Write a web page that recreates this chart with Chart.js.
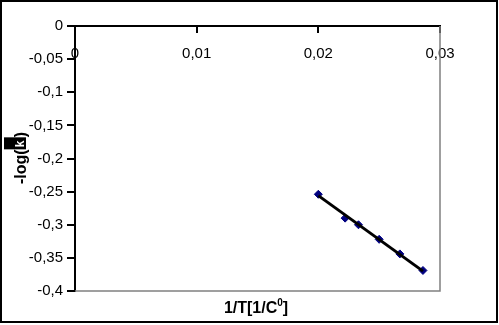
<!DOCTYPE html>
<html>
<head>
<meta charset="utf-8">
<script src="https://cdn.jsdelivr.net/npm/chart.js@4.4.1/dist/chart.umd.min.js"></script>
<style>
  html, body { margin: 0; padding: 0; background: #fff; }
  #wrap { width: 499px; height: 325px; }
</style>
</head>
<body>
<div id="wrap"><canvas id="chart" width="499" height="325"></canvas></div>
<script>
// measured points
const invT = [0.02, 0.0222, 0.0233, 0.025, 0.0267, 0.0286];
const logK = [-0.254, -0.290, -0.300, -0.322, -0.344, -0.369];
// trend line ends
const trendX = [0.02, 0.0286];
const trendY = [-0.256, -0.370];

const FONT = '"Liberation Sans", Arial, sans-serif';

const fmt = (v) => {
  const r = Math.round(v * 100) / 100;
  return r === 0 ? '0' : String(r).replace('.', ',');
};

const frame = {
  id: 'frame',
  afterDraw(chart) {
    const { ctx, chartArea: a } = chart;
    ctx.save();
    // plot area gray edges
    ctx.strokeStyle = '#808080';
    ctx.lineWidth = 1.5;
    ctx.beginPath();
    ctx.moveTo(a.right, a.top);
    ctx.lineTo(a.right, a.bottom);
    ctx.lineTo(a.left, a.bottom);
    ctx.stroke();
    // outer border
    ctx.strokeStyle = '#000';
    ctx.lineWidth = 2;
    ctx.strokeRect(1, 1, 496, 321);

    // x title
    ctx.fillStyle = '#000';
    ctx.textBaseline = 'alphabetic';
    const big = 'bold 16px ' + FONT, small = 'bold 10px ' + FONT;
    const t1 = '1/T[1/C', t2 = '0', t3 = ']';
    ctx.font = big;
    const w1 = ctx.measureText(t1).width;
    const w3 = ctx.measureText(t3).width;
    ctx.font = small;
    const w2 = ctx.measureText(t2).width;
    let x = 256 - (w1 + w2 + w3) / 2;
    const by = 313;
    ctx.font = big;
    ctx.fillText(t1, x, by);
    x += w1;
    ctx.font = small;
    ctx.fillText(t2, x, by - 7);
    x += w2;
    ctx.font = big;
    ctx.fillText(t3, x, by);

    // y title, rotated
    ctx.translate(26, 158);
    ctx.rotate(-Math.PI / 2);
    const s1 = '-log(', s3 = ')';
    const ws1 = ctx.measureText(s1).width;
    const ws3 = ctx.measureText(s3).width;
    const boxW = 12;
    let tx = -(ws1 + boxW + ws3) / 2;
    ctx.fillText(s1, tx, 0);
    tx += ws1;
    ctx.fillRect(tx, -22, boxW, 22);
    ctx.fillStyle = '#fff';
    ctx.font = 'bold 12px ' + FONT;
    ctx.fillText('k', tx + 2, -2);
    ctx.fillStyle = '#000';
    ctx.font = big;
    tx += boxW;
    ctx.fillText(s3, tx, 0);
    ctx.restore();
  }
};

new Chart(document.getElementById('chart'), {
  type: 'scatter',
  data: {
    datasets: [{
      data: invT.map((v, i) => ({ x: v, y: logK[i] })),
      pointStyle: 'rectRot',
      pointRadius: 4,
      backgroundColor: '#000080',
      borderColor: '#000080',
      order: 1
    }, {
      type: 'line',
      data: trendX.map((v, i) => ({ x: v, y: trendY[i] })),
      borderColor: '#000',
      borderWidth: 3,
      pointRadius: 0,
      order: 0
    }]
  },
  options: {
    responsive: false,
    animation: false,
    layout: { padding: { left: 0, top: 26, right: 59, bottom: 34 } },
    plugins: { legend: { display: false }, tooltip: { enabled: false } },
    scales: {
      x: {
        type: 'linear',
        position: { y: 0 },
        min: 0,
        max: 0.03,
        border: { display: true, color: '#000', width: 2 },
        grid: { drawOnChartArea: false, drawTicks: true, tickLength: 6, color: '#000', lineWidth: 2 },
        ticks: {
          stepSize: 0.01,
          padding: 13,
          color: '#000',
          font: { family: FONT, size: 15 },
          callback: fmt
        }
      },
      y: {
        type: 'linear',
        position: 'left',
        min: -0.4,
        max: 0,
        afterFit: (s) => { s.width = 75; },
        border: { display: true, color: '#000', width: 2 },
        grid: { drawOnChartArea: false, drawTicks: true, tickLength: 8, color: '#000', lineWidth: 2 },
        ticks: {
          stepSize: 0.05,
          padding: 4,
          color: '#000',
          font: { family: FONT, size: 15 },
          callback: fmt
        }
      }
    }
  },
  plugins: [frame]
});
</script>
</body>
</html>
